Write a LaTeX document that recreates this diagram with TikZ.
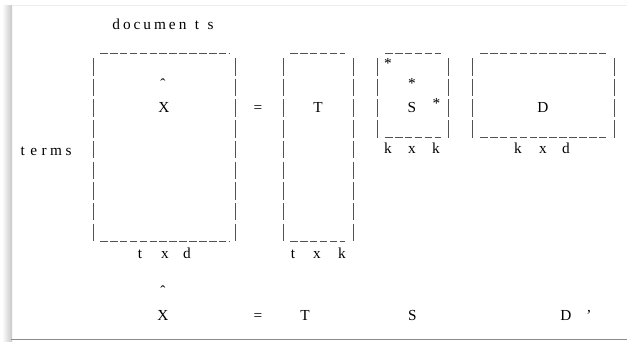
\documentclass[tikz,border=0pt]{standalone}
\usepackage{fontspec}
\setmainfont{Liberation Serif}
\begin{document}
\begin{tikzpicture}[x=1pt,y=-1pt,
  every node/.style={inner sep=0pt, font=\fontsize{15.3}{18}\selectfont},
  lbl/.style={anchor=base},
  glyph/.style={anchor=center},
  vbar/.style={draw=black!68, line width=0.85pt, dash pattern=on 17.5pt off 3.2pt},
  hbar/.style={draw=black!68, line width=0.85pt, dash pattern=on 7.6pt off 2.3pt}]
\useasboundingbox (0,0) rectangle (627,341);
\fill[white] (0,0) rectangle (627,341);
% screenshot frame
\shade[left color=white, right color=black!22] (2,5) rectangle (12,341);
\draw[black!7, line width=1pt] (12,5) -- (627,5);
\draw[black!45, line width=1.6pt] (11,339.6) -- (627,339.6);

% labels
\node[lbl] (docs) at (163,29) {d\hspace{3pt}o\hspace{3pt}c\hspace{3pt}u\hspace{3pt}m\hspace{3pt}e\hspace{3pt}n\hspace{8.5pt}t\hspace{8.5pt}s};
\node[lbl] (terms) at (46,155) {t\hspace{5.5pt}e\hspace{4.5pt}r\hspace{3.5pt}m\hspace{3.5pt}s};

% X box
\draw[vbar] (93,58) -- (93,242);
\draw[vbar] (235,58) -- (235,242);
\draw[hbar] (100,53) -- (229,53);
\draw[hbar] (100,241) -- (229,241);
\node[glyph] (hatA) at (163,84) {\symbol{"02C6}};
\node[lbl] (XA) at (164,112) {X};
\node[lbl] (tA) at (140,258) {t};
\node[lbl] (xA) at (165,258) {x};
\node[lbl] (dA) at (187,258) {d};

\node[lbl] (eqA) at (258,112) {=};

% T box
\draw[vbar] (283,58) -- (283,242);
\draw[vbar] (353.5,58) -- (353.5,242);
\draw[hbar] (290,53) -- (345,53);
\draw[hbar] (290,241) -- (345,241);
\node[lbl] (TA) at (318,112) {T};
\node[lbl] (tB) at (293,258) {t};
\node[lbl] (xB) at (317,258) {x};
\node[lbl] (kB) at (342,258) {k};

% S box
\draw[vbar] (377,58) -- (377,137.6);
\draw[vbar] (448,58) -- (448,137.6);
\draw[hbar] (385,53.5) -- (441,53.5);
\draw[hbar] (385,137) -- (441,137);
\node[glyph] (st1) at (388,63) {*};
\node[glyph] (st2) at (412,83) {*};
\node[glyph] (st3) at (436.5,103.5) {*};
\node[lbl] (SA) at (412,112) {S};
\node[lbl] (kC) at (388,153.5) {k};
\node[lbl] (xC) at (412,153.5) {x};
\node[lbl] (kD) at (436,153.5) {k};

% D box
\draw[vbar] (472,58) -- (472,137.6);
\draw[vbar] (614,58) -- (614,137.6);
\draw[hbar] (480,53.5) -- (606,53.5);
\draw[hbar] (480,137) -- (606,137);
\node[lbl] (DA) at (543,112) {D};
\node[lbl] (kE) at (518,153.5) {k};
\node[lbl] (xE) at (543,153.5) {x};
\node[lbl] (dE) at (566,153.5) {d};

% bottom equation
\node[glyph] (hatB) at (163,291) {\symbol{"02C6}};
\node[lbl] (XB) at (163,320) {X};
\node[lbl] (eqB) at (258,320) {=};
\node[lbl] (TB) at (305,320) {T};
\node[lbl] (SB) at (412.5,320) {S};
\node[lbl] (DB) at (566,320) {D};
\node[lbl] (prB) at (589,320) {’};
\end{tikzpicture}
\end{document}
